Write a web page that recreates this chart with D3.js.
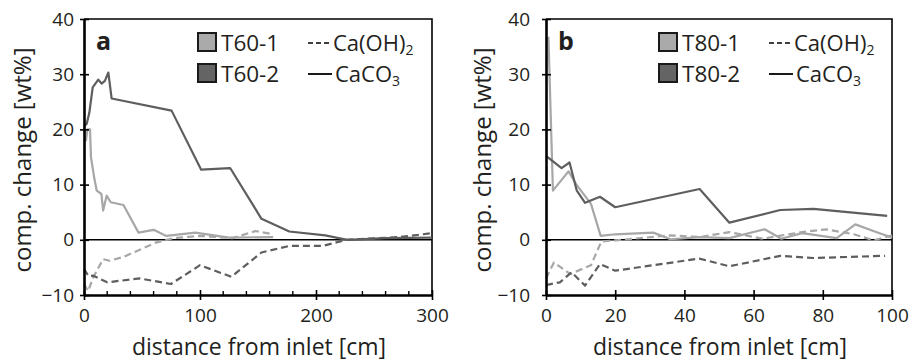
<!DOCTYPE html>
<html lang="en">
<head>
<meta charset="utf-8">
<title>comp. change vs distance from inlet</title>
<script src="https://cdn.jsdelivr.net/npm/d3@7"></script>
<style>
  body { margin: 0; background: #fff; }
  text { font-family: "Open Sans", "DejaVu Sans", sans-serif; fill: #231f20; }
</style>
</head>
<body>
<svg id="chart" width="909" height="363"></svg>
<script>
// ---- panel a (T60), distance in cm, value in wt%
var t60_1_caco3_x = [0, 1.7, 2.9, 5.2, 6, 9, 11, 15, 16.5, 19.5, 23, 34, 47, 60, 71, 96, 125, 163];
var t60_1_caco3_y = [20.3, 18, 20, 20, 15, 11, 8.9, 8.3, 5.3, 8, 6.8, 6.3, 1.3, 1.8, 0.7, 1.3, 0.4, 0.5];
var t60_1_caoh2_x = [0, 3.5, 8, 16.5, 22, 34, 62, 77, 100, 128, 148, 163];
var t60_1_caoh2_y = [-8, -9.3, -6.8, -3.5, -3.8, -3.1, -0.5, 0.3, 0.7, 0.3, 1.6, 1.0];
var t60_2_caco3_x = [0, 2.3, 4.6, 7.5, 12.3, 15.2, 18, 21, 23.8, 75.5, 101, 126, 153, 177, 208, 227, 260, 300];
var t60_2_caco3_y = [20.6, 21, 23, 27.6, 29, 28.3, 28.8, 30.3, 25.6, 23.4, 12.7, 13, 3.8, 1.5, 0.8, 0, 0.3, 0.4];
var t60_2_caoh2_x = [0, 4, 8, 20, 48, 75, 100, 127, 153, 177, 206, 226, 272, 300];
var t60_2_caoh2_y = [-5.3, -6.6, -6.5, -7.7, -7, -8, -4.6, -6.7, -2.3, -1.1, -1.1, 0, 0.5, 1.2];

// ---- panel b (T80)
var t80_1_caco3_x = [0.7, 2, 6.5, 9, 13, 15.8, 20, 31, 36, 44.5, 53, 63.2, 68, 74, 84, 89.4, 95, 100];
var t80_1_caco3_y = [36.8, 8.9, 12.4, 9.8, 6.5, 0.7, 1.0, 1.3, 0.1, 0.5, 0.3, 1.9, 0.2, 1.2, 0.3, 2.8, 1.5, 0.4];
var t80_1_caoh2_x = [0, 2.3, 7, 13, 16, 20, 36, 44.5, 53, 62.5, 74, 81, 89, 94.7, 100];
var t80_1_caoh2_y = [-7, -4.1, -6.2, -4.6, -0.3, -0.1, 0.8, 0.5, 1.4, 0.2, 1.4, 1.9, 1.0, -0.1, 0.8];
var t80_2_caco3_x = [0, 4.5, 6.8, 8.9, 11.3, 15.6, 20, 44.4, 53, 67.7, 77.3, 98.6];
var t80_2_caco3_y = [15.2, 13, 14, 8.9, 6.7, 7.8, 5.9, 9.2, 3.1, 5.4, 5.6, 4.35];
var t80_2_caoh2_x = [0, 4, 7.4, 11.3, 15.6, 20, 44.3, 53, 67.7, 77.3, 98];
var t80_2_caoh2_y = [-8.2, -7.7, -5.9, -8.3, -4.4, -5.6, -3.4, -4.8, -2.9, -3.3, -2.9];

var yTicks = [-10, 0, 10, 20, 30, 40];
var xTicksA = [0, 100, 200, 300];
var xMinorA = [20, 40, 60, 80, 120, 140, 160, 180, 220, 240, 260, 280];
var xTicksB = [0, 20, 40, 60, 80, 100];

var light = "#a7a7a7", dark = "#5e5e5e";
var svg = d3.select("#chart");

function zip(xs, ys) {
    return xs.map(function(x, i) { return [x, ys[i]]; });
}

function drawPanel(o) {
    var x = d3.scaleLinear().domain(o.xDomain).range([o.left, o.right]);
    var y = d3.scaleLinear().domain([-10, 40]).range([295, 19]);
    var g = svg.append("g");

    // frame top/right
    g.append("path")
        .attr("d", "M" + o.left + ",19H" + o.right + "V295")
        .attr("fill", "none").attr("stroke", "#000").attr("stroke-width", 1.6);

    // zero line
    g.append("line")
        .attr("x1", x(o.xDomain[0])).attr("x2", x(o.xDomain[1]))
        .attr("y1", y(0)).attr("y2", y(0))
        .attr("stroke", "#000").attr("stroke-width", 1.4);

    var line = d3.line().x(function(d) { return x(d[0]); }).y(function(d) { return y(d[1]); });
    o.series.forEach(function(s) {
        g.append("path")
            .datum(zip(s.x, s.y))
            .attr("d", line)
            .attr("fill", "none")
            .attr("stroke", s.color)
            .attr("stroke-width", 2.2)
            .attr("stroke-linejoin", "round")
            .attr("stroke-dasharray", s.dash ? "7,4" : null);
    });

    // y axis
    var yAxis = d3.axisLeft(y).tickValues(yTicks).tickSizeInner(5).tickSizeOuter(0).tickPadding(o.yPad);
    var ga = g.append("g").attr("transform", "translate(" + o.left + ",0)").call(yAxis);
    ga.select(".domain").attr("stroke-width", 2.6);
    ga.selectAll(".tick line").attr("x2", 5).attr("x1", -4).attr("stroke-width", 1.6);

    // x axis
    var xAxis = d3.axisBottom(x).tickValues(o.xTicks).tickSizeInner(5).tickSizeOuter(0).tickPadding(9);
    var gx = g.append("g").attr("transform", "translate(0,295)").call(xAxis);
    gx.select(".domain").attr("stroke-width", 2.6);
    gx.selectAll(".tick line").attr("y1", -5).attr("y2", 5).attr("stroke-width", 1.6);
    if (o.xMinor) {
        gx.selectAll(".minor").data(o.xMinor).enter().append("line")
            .attr("x1", function(d) { return x(d); }).attr("x2", function(d) { return x(d); })
            .attr("y1", -4).attr("y2", 0)
            .attr("stroke", "#000").attr("stroke-width", 1.4);
    }
    [ga, gx].forEach(function(a) {
        a.selectAll("text").style("font-size", "19px").style("font-family", "'Open Sans', sans-serif").attr("fill", "#231f20");
    });

    // axis titles
    g.append("text")
        .attr("transform", "translate(" + o.yTitleX + ",160) rotate(-90)")
        .attr("text-anchor", "middle")
        .style("font-size", "24px")
        .text("comp. change [wt%]");
    g.append("text")
        .attr("x", (o.left + o.right) / 2 + 1).attr("y", 355)
        .attr("text-anchor", "middle")
        .style("font-size", "23px")
        .text("distance from inlet [cm]");

    // panel letter
    g.append("text")
        .attr("x", o.left + 12).attr("y", 50)
        .style("font-size", "25px").style("font-weight", "bold")
        .text(o.letter);

    // legend
    var lg = g.append("g");
    o.names.forEach(function(n, i) {
        var yy = 33 + i * 31;
        lg.append("rect").attr("x", o.legX).attr("y", yy).attr("width", 18).attr("height", 18)
            .attr("fill", i === 0 ? "#aaaaaa" : "#646464")
            .attr("stroke", "#1a1a1a").attr("stroke-width", 2);
        lg.append("text").attr("x", o.legX + 23).attr("y", yy + 18)
            .style("font-size", "22.5px").text(n);
    });
    var lx = o.legX + 110;
    lg.append("line").attr("x1", lx).attr("x2", lx + 24).attr("y1", 43).attr("y2", 43)
        .attr("stroke", "#000").attr("stroke-width", 1.6).attr("stroke-dasharray", "5,3");
    lg.append("line").attr("x1", lx).attr("x2", lx + 24).attr("y1", 74).attr("y2", 74)
        .attr("stroke", "#000").attr("stroke-width", 1.8);
    var t1 = lg.append("text").attr("x", lx + 25).attr("y", 51).style("font-size", "22px");
    t1.append("tspan").text("Ca(OH)");
    t1.append("tspan").attr("dy", 4).style("font-size", "14px").text("2");
    var t2 = lg.append("text").attr("x", lx + 27).attr("y", 82).style("font-size", "22px");
    t2.append("tspan").text("CaCO");
    t2.append("tspan").attr("dy", 4).style("font-size", "14px").text("3");
}

drawPanel({
    left: 84, right: 432, xDomain: [0, 300], xTicks: xTicksA, xMinor: xMinorA,
    yPad: 5, yTitleX: 31, letter: "a", legX: 198, names: ["T60-1", "T60-2"],
    series: [
        { x: t60_1_caoh2_x, y: t60_1_caoh2_y, color: light, dash: true },
        { x: t60_1_caco3_x, y: t60_1_caco3_y, color: light, dash: false },
        { x: t60_2_caoh2_x, y: t60_2_caoh2_y, color: dark, dash: true },
        { x: t60_2_caco3_x, y: t60_2_caco3_y, color: dark, dash: false }
    ]
});

drawPanel({
    left: 546, right: 892, xDomain: [0, 100], xTicks: xTicksB, xMinor: null,
    yPad: 11, yTitleX: 491, letter: "b", legX: 659, names: ["T80-1", "T80-2"],
    series: [
        { x: t80_1_caoh2_x, y: t80_1_caoh2_y, color: light, dash: true },
        { x: t80_1_caco3_x, y: t80_1_caco3_y, color: light, dash: false },
        { x: t80_2_caoh2_x, y: t80_2_caoh2_y, color: dark, dash: true },
        { x: t80_2_caco3_x, y: t80_2_caco3_y, color: dark, dash: false }
    ]
});
</script>
</body>
</html>
